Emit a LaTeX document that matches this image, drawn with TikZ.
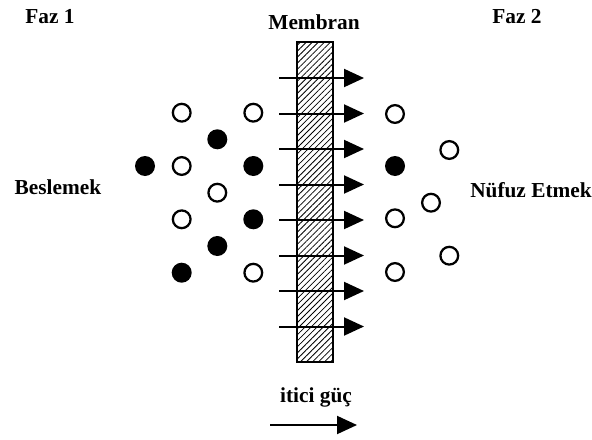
\documentclass[tikz,border=0pt]{standalone}
\usepackage{fontspec}
\setmainfont{Liberation Serif}
\usetikzlibrary{arrows.meta,patterns.meta}
\begin{document}
\begin{tikzpicture}[x=0.75pt,y=-0.75pt,
  lbl/.style={font=\fontsize{16pt}{18pt}\selectfont\bfseries, anchor=base, inner sep=0pt},
  opencirc/.style={circle, draw, line width=1.7pt, minimum size=13.3pt, inner sep=0pt},
  fillcirc/.style={circle, fill=black, minimum size=15pt, inner sep=0pt},
  flow/.style={line width=1.5pt, -{Triangle[length=15pt,width=13.5pt]}},
  membox/.style={draw, line width=1.5pt, minimum width=27pt, minimum height=240pt, inner sep=0pt,
    pattern={Lines[angle=45,distance=3.2pt,line width=0.6pt]}}]
\useasboundingbox (0,0) rectangle (592,439);
% labels
\node[lbl] (faz1) at (50,23.5) {Faz 1};
\node[lbl] (membran) at (314,29.5) {Membran};
\node[lbl] (faz2) at (517,23.5) {Faz 2};
\node[lbl] (besle) at (58,194.5) {Beslemek};
\node[lbl] (nufuz) at (531,197) {Nüfuz Etmek};
\node[lbl] (itici) at (316,402) {itici güç};
% membrane
\node[membox] (mem) at (315,202) {};
% flow arrows
\foreach \i/\y in {1/78,2/113.5,3/149,4/184.5,5/220,6/255.5,7/291,8/326.5}{
  \coordinate (s\i) at (279,\y);
  \coordinate (e\i) at (364,\y);
  \draw[flow] (s\i) -- (e\i);
}
% left particles
\node[opencirc] (a1) at (181.7,112.7) {};
\node[opencirc] (a2) at (253.3,112.7) {};
\node[fillcirc] (a3) at (217.3,139.3) {};
\node[fillcirc] (a4) at (145,166) {};
\node[opencirc] (a5) at (181.7,166) {};
\node[fillcirc] (a6) at (253.3,166) {};
\node[opencirc] (a7) at (217.3,192.7) {};
\node[opencirc] (a8) at (181.7,219.3) {};
\node[fillcirc] (a9) at (253.3,219.3) {};
\node[fillcirc] (a10) at (217.3,246) {};
\node[fillcirc] (a11) at (181.7,272.7) {};
\node[opencirc] (a12) at (253.3,272.7) {};
% right particles
\node[opencirc] (b1) at (395,114) {};
\node[opencirc] (b2) at (449.3,150) {};
\node[fillcirc] (b3) at (395,166) {};
\node[opencirc] (b4) at (431,202.7) {};
\node[opencirc] (b5) at (395,218.3) {};
\node[opencirc] (b6) at (449.3,255.7) {};
\node[opencirc] (b7) at (395,272) {};
% driving force arrow
\coordinate (d1) at (270,425);
\coordinate (d2) at (357,425);
\draw[flow] (d1) -- (d2);
\end{tikzpicture}
\end{document}
